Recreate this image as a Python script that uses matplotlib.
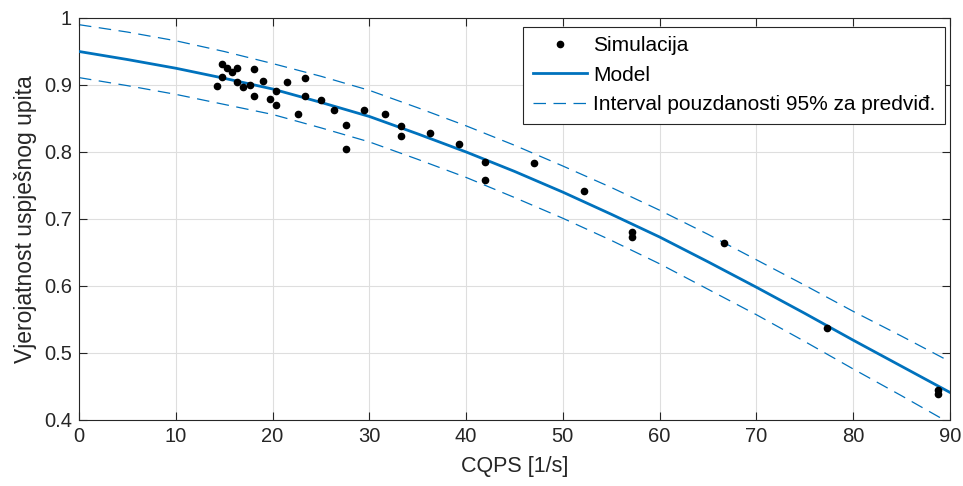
import numpy as np
import matplotlib.pyplot as plt

plt.rcParams['font.family'] = ['Liberation Sans', 'DejaVu Sans']

# simulated points (CQPS, probability)
sim_x = [14.8, 15.3, 16.3, 15.8, 18.1, 14.8, 14.3, 16.3, 17.0, 17.7, 19.0, 18.1, 19.7,
         20.4, 20.4, 21.5, 23.4, 23.4, 25.0, 22.6, 26.3, 27.6, 27.6, 29.5, 31.6, 33.3,
         33.3, 36.3, 39.3, 42.0, 42.0, 47.0, 52.2, 57.1, 57.1, 66.6, 77.3, 88.8, 88.8]
sim_y = [0.931, 0.926, 0.926, 0.919, 0.924, 0.912, 0.899, 0.904, 0.897, 0.900, 0.906, 0.884, 0.879,
         0.870, 0.891, 0.904, 0.910, 0.883, 0.877, 0.856, 0.862, 0.840, 0.804, 0.863, 0.857, 0.839,
         0.824, 0.828, 0.812, 0.785, 0.758, 0.783, 0.742, 0.681, 0.673, 0.664, 0.537, 0.444, 0.439]

# fitted model and 95% prediction interval
fit_x = [0, 5, 10, 15, 20, 25, 30, 35, 40, 45, 50, 55, 60, 65, 70, 75, 80, 85, 90]
fit_y = [0.950, 0.938, 0.925, 0.910, 0.894, 0.874, 0.853, 0.827, 0.800, 0.771, 0.740,
         0.707, 0.673, 0.636, 0.598, 0.559, 0.519, 0.480, 0.441]
upper = [0.990, 0.979, 0.966, 0.950, 0.932, 0.913, 0.892, 0.866, 0.839, 0.810, 0.779,
         0.747, 0.713, 0.677, 0.639, 0.601, 0.562, 0.525, 0.487]
lower = [0.911, 0.899, 0.886, 0.871, 0.856, 0.836, 0.815, 0.789, 0.762, 0.732, 0.701,
         0.668, 0.633, 0.595, 0.557, 0.517, 0.476, 0.436, 0.395]

blue = '#0072BD'
dark = '#262626'

fig = plt.figure(figsize=(9.63, 4.86), dpi=100)
ax = fig.add_axes([0.082, 0.136, 0.9045, 0.827])

ax.plot(sim_x, sim_y, 'o', color='black', markersize=4.5, label='Simulacija', zorder=4)
ax.plot(fit_x, fit_y, '-', color=blue, linewidth=2, label='Model', zorder=3)
ax.plot(fit_x, upper, '--', color=blue, linewidth=0.9, dashes=(10, 6),
        label='Interval pouzdanosti 95% za predviđ.', zorder=2)
ax.plot(fit_x, lower, '--', color=blue, linewidth=0.9, dashes=(10, 6), zorder=2)

ax.set_xlim(0, 90)
ax.set_ylim(0.4, 1)
ax.set_xticks(np.arange(0, 91, 10))
ax.set_yticks([0.4, 0.5, 0.6, 0.7, 0.8, 0.9, 1])
ax.set_yticklabels(['0.4', '0.5', '0.6', '0.7', '0.8', '0.9', '1'])
ax.grid(True, color='#dedede', linewidth=0.8)
ax.set_axisbelow(True)
ax.tick_params(direction='in', top=True, right=True, labelsize=14.5,
               colors=dark, length=6, width=0.8, pad=5)
for s in ax.spines.values():
    s.set_color(dark)
    s.set_linewidth(0.8)

ax.set_xlabel('CQPS [1/s]', fontsize=15.5, color=dark, labelpad=7)
ax.set_ylabel('Vjerojatnost uspješnog upita', fontsize=16.5, color=dark, labelpad=5)

leg = ax.legend(loc='upper right', fontsize=15, handlelength=2.6, handletextpad=0.3,
                borderpad=0.45, labelspacing=0.5, fancybox=False, framealpha=1,
                edgecolor=dark, bbox_to_anchor=(0.9943, 0.9776), borderaxespad=0)
leg.get_frame().set_linewidth(0.8)

fig.savefig('out.png', dpi=100)
